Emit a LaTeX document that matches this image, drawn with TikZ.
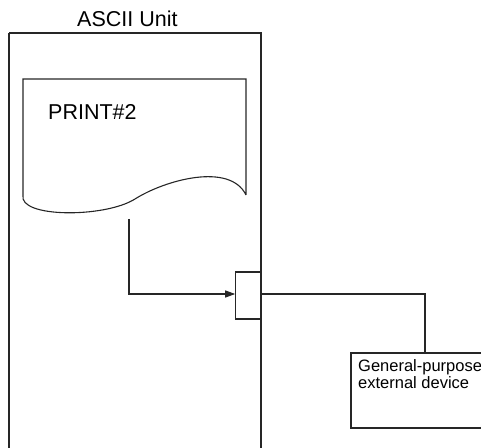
\documentclass[tikz,border=0pt]{standalone}
\usepackage{fontspec}
\setmainfont{Liberation Sans}
\usetikzlibrary{arrows.meta}
\begin{document}
\begin{tikzpicture}[x=1bp,y=-1bp,
  line/.style={draw=black!85,line width=1.1bp},
  lbl/.style={inner sep=0pt,anchor=base west},
  big/.style={font=\fontsize{21.5bp}{24bp}\selectfont},
  small/.style={font=\fontsize{16.5bp}{15bp}\selectfont,align=left}]
\useasboundingbox (0,0) rectangle (481,448);
\clip (0,0) rectangle (481,448);
% ASCII Unit frame
\draw[line] (9,33) -- (9,460);
\draw[line] (9,33) -- (261,33) -- (261,460);
\node[lbl,big] (title) at (77,27) {ASCII Unit};
% document shape
\draw[line] (246,195) -- (246,79) -- (23,79) -- (23,195)
  .. controls (18,218) and (105,218) .. (135,199)
  .. controls (165,180) and (230,162) .. (246,195);
\node[lbl,big] (print) at (48,120) {PRINT\#2};
\coordinate (docout) at (129,219);
% port
\node[line,rectangle,minimum width=25.3bp,minimum height=47bp,inner sep=0pt] (port) at (248.4,295.5) {};
\coordinate (portout) at (261,294);
% device
\draw[line] (520,353) -- (351,353) -- (351,428) -- (520,428);
\coordinate (devtop) at (425,353);
\node[lbl,small] (devtext) at (358,388) {General-purpose\\external device};
% connectors
\draw[line,-{Triangle[length=10bp,width=7bp]}] (docout) |- (port.west |- portout);
\draw[line] (portout) -| (devtop);
\end{tikzpicture}
\end{document}
